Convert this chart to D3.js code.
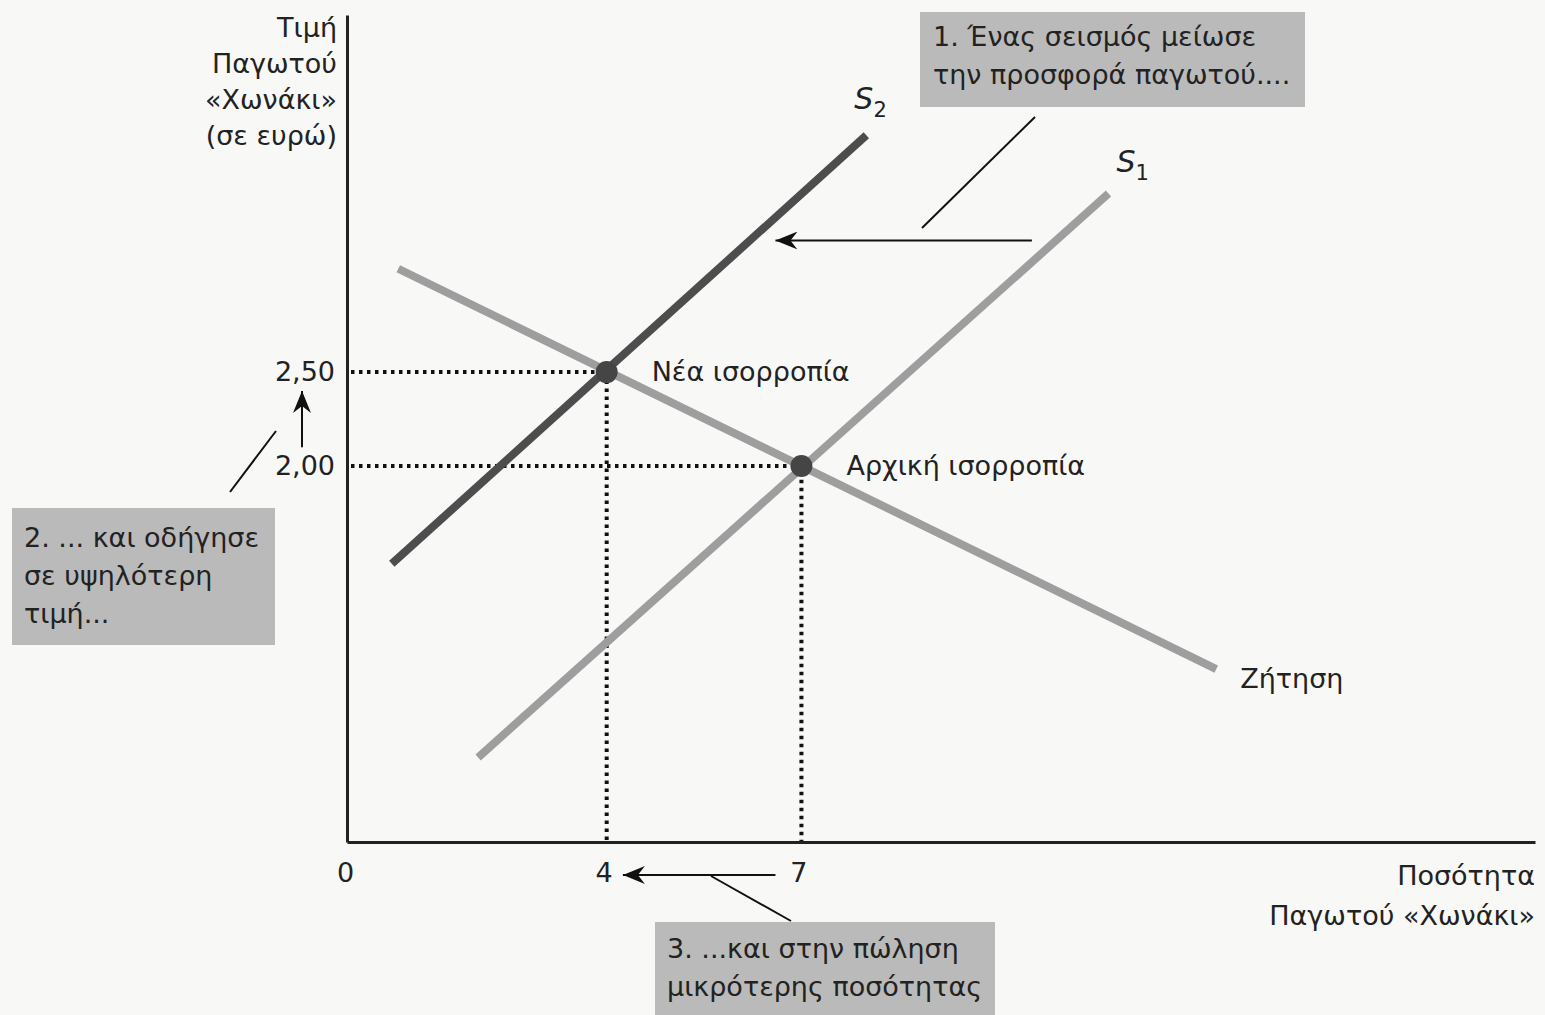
<!DOCTYPE html>
<meta charset="utf-8">
<style>
  body { margin: 0; background: #f8f8f7; }
  text { font-family: "DejaVu Sans", "Liberation Sans", sans-serif; fill: #222; }
  .tick text { font-size: 27px; font-family: "DejaVu Sans", sans-serif; fill: #222; }
  .curve { fill: none; stroke-linecap: butt; }
  .guide { stroke: #111; stroke-width: 4; stroke-dasharray: 3.5 4.5; fill: none; }
  .note rect { fill: #bababa; }
  .note text { font-size: 27px; }
  .lead { stroke: #111; stroke-width: 2; fill: none; }
</style>
<svg width="1545" height="1015"></svg>
<script src="https://d3js.org/d3.v7.min.js"></script>
<script>
// values (quantity, price)
var qTicks = [0, 4, 7];
var pTicks = [2.00, 2.50];
var supply1 = [[2.02, 0.45], [11.73, 3.45]];
var supply2 = [[0.69, 1.48], [8.00, 3.76]];
var demand = [[0.79, 3.05], [13.39, 0.92]];
var equilibria = [
  { name: "Νέα ισορροπία", q: 4, p: 2.50 },
  { name: "Αρχική ισορροπία", q: 7, p: 2.00 }
];
var priceLabel = ["Τιμή", "Παγωτού", "«Χωνάκι»", "(σε ευρώ)"];
var qtyLabel = ["Ποσότητα", "Παγωτού «Χωνάκι»"];
var notes = [
  ["1. Ένας σεισμός μείωσε", "την προσφορά παγωτού...."],
  ["2. ... και οδήγησε", "σε υψηλότερη", "τιμή..."],
  ["3. ...και στην πώληση", "μικρότερης ποσότητας"]
];

var svg = d3.select("svg");

var x = d3.scaleLinear().domain([0, 18.3]).range([347, 1535]);
var y = d3.scaleLinear().domain([0, 4.4]).range([842, 15]);

var gr = d3.formatLocale({ decimal: ",", thousands: ".", grouping: [3], currency: ["", "€"] });
var fmt = gr.format(".2f");

svg.append("defs").append("marker")
  .attr("id", "head")
  .attr("viewBox", "0 0 22 18")
  .attr("refX", 22).attr("refY", 9)
  .attr("markerWidth", 22).attr("markerHeight", 18)
  .attr("markerUnits", "userSpaceOnUse")
  .attr("orient", "auto")
  .append("path").attr("d", "M0,0 L22,9 L0,18 L7,9 Z").attr("fill", "#111");

// dotted guides to the axes
equilibria.forEach(function(d) {
  svg.append("path").attr("class", "guide")
    .attr("d", "M" + (x(0) + 4) + "," + y(d.p) + "H" + x(d.q) + "V" + y(0));
});

// curves
var line = d3.line().x(function(d) { return x(d[0]); }).y(function(d) { return y(d[1]); });
svg.append("path").attr("class", "curve").attr("d", line(demand)).attr("stroke", "#9e9e9e").attr("stroke-width", 8);
svg.append("path").attr("class", "curve").attr("d", line(supply1)).attr("stroke", "#9e9e9e").attr("stroke-width", 8);
svg.append("path").attr("class", "curve").attr("d", line(supply2)).attr("stroke", "#4d4d4d").attr("stroke-width", 8);

// axes
var xAxis = svg.append("g").attr("transform", "translate(0," + y(0) + ")")
  .call(d3.axisBottom(x).tickValues(qTicks).tickSize(0).tickPadding(18));
xAxis.select(".domain").attr("stroke", "#222").attr("stroke-width", 3);
xAxis.selectAll("text").attr("dy", "0.8em").attr("dx", function(d) { return d === 0 ? "-2" : "-3"; });

var yAxis = svg.append("g").attr("transform", "translate(" + x(0) + ",0)")
  .call(d3.axisLeft(y).tickValues(pTicks).tickSize(0).tickPadding(12).tickFormat(fmt));
yAxis.select(".domain").attr("stroke", "#222").attr("stroke-width", 3);

// equilibrium points
svg.selectAll(".eq").data(equilibria).enter().append("circle")
  .attr("cx", function(d) { return x(d.q); })
  .attr("cy", function(d) { return y(d.p); })
  .attr("r", 11).attr("fill", "#454545");
svg.selectAll(".eqlab").data(equilibria).enter().append("text")
  .attr("x", function(d) { return x(d.q) + 45; })
  .attr("y", function(d) { return y(d.p) + 9; })
  .style("font-size", "27px")
  .text(function(d) { return d.name; });

// curve names
function sLabel(px, py, sub) {
  var t = svg.append("text").attr("x", px).attr("y", py)
    .style("font-size", "30px").style("font-style", "italic").text("S");
  t.append("tspan").attr("dy", 8).style("font-size", "21px").style("font-style", "normal").text(sub);
}
sLabel(x(supply2[1][0]) - 12, y(supply2[1][1]) - 26, "2");
sLabel(x(supply1[1][0]) + 8, y(supply1[1][1]) - 22, "1");
svg.append("text").attr("x", x(demand[1][0]) + 24).attr("y", y(demand[1][1]) + 19)
  .style("font-size", "27px").text("Ζήτηση");

// axis titles
svg.append("text").attr("text-anchor", "end").style("font-size", "27px")
  .selectAll("tspan").data(priceLabel).enter().append("tspan")
  .attr("x", 337).attr("y", function(d, i) { return 37 + i * 36; })
  .text(function(d) { return d; });
svg.append("text").attr("text-anchor", "end").style("font-size", "27px")
  .selectAll("tspan").data(qtyLabel).enter().append("tspan")
  .attr("x", 1535).attr("y", function(d, i) { return 885 + i * 40; })
  .text(function(d) { return d; });

// shift arrows
svg.append("line").attr("class", "lead").attr("marker-end", "url(#head)")
  .attr("x1", x(10.55)).attr("y1", y(3.2)).attr("x2", x(6.6)).attr("y2", y(3.2));
svg.append("line").attr("class", "lead").attr("marker-end", "url(#head)")
  .attr("x1", x(0) - 45).attr("y1", y(2.10)).attr("x2", x(0) - 45).attr("y2", y(2.40));
svg.append("line").attr("class", "lead").attr("marker-end", "url(#head)")
  .attr("x1", x(6.6)).attr("y1", y(0) + 33).attr("x2", x(4.25)).attr("y2", y(0) + 33);

// callout boxes and their leader lines
var boxes = [
  { x: 920, y: 12, w: 385, h: 95, tx: 933, ty: 46, lead: [1035, 117, 922, 228] },
  { x: 12, y: 508, w: 263, h: 137, tx: 24, ty: 547, lead: [230, 492, 276, 431] },
  { x: 655, y: 922, w: 340, h: 100, tx: 667, ty: 958, lead: [711, 876, 791, 921] }
];
boxes.forEach(function(b, i) {
  var g = svg.append("g").attr("class", "note");
  g.append("rect").attr("x", b.x).attr("y", b.y).attr("width", b.w).attr("height", b.h);
  g.append("text").selectAll("tspan").data(notes[i]).enter().append("tspan")
    .attr("x", b.tx).attr("y", function(d, j) { return b.ty + j * 38; })
    .text(function(d) { return d; });
  svg.append("line").attr("class", "lead")
    .attr("x1", b.lead[0]).attr("y1", b.lead[1]).attr("x2", b.lead[2]).attr("y2", b.lead[3]);
});
</script>
